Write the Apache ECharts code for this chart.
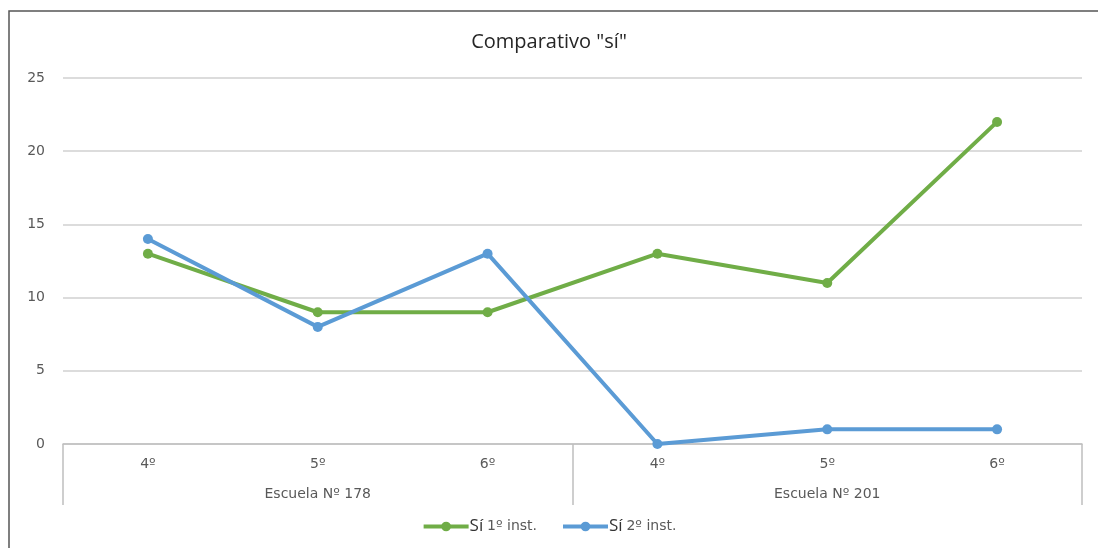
<!DOCTYPE html>
<html><head><meta charset="utf-8">
<script src="https://cdn.jsdelivr.net/npm/echarts@6/dist/echarts.min.js"></script>
<style>html,body{margin:0;padding:0;background:#fff}#c{width:1098px;height:548px}</style>
</head><body><div id="c"></div>
<script>
const categories = ['4º','5º','6º','4º','5º','6º'];
const groups = ['Escuela Nº 178','Escuela Nº 201'];
const serie1Name = 'Sí 1º inst.';
const serie2Name = 'Sí 2º inst.';
const serie1 = [13, 9, 9, 13, 11, 22];
const serie2 = [14, 8, 13, 0, 1, 1];
const yTicks = [0, 5, 10, 15, 20, 25];

const chart = echarts.init(document.getElementById('c'));
const font = 'DejaVu Sans';
chart.setOption({
  animation: false,
  textStyle: {fontFamily: font},
  title: {text: 'Comparativo "sí"', left: 'center', top: 27, textStyle: {fontFamily: 'Open Sans', fontSize: 20, fontWeight: 'normal', color: '#262626'}},
  graphic: [{type: 'rect', shape: {x: 9, y: 11, width: 1200, height: 700}, style: {fill: 'none', stroke: '#555', lineWidth: 1.5}, silent: true}],
  legend: {
    bottom: 8, left: 'center', itemWidth: 45, itemHeight: 12, itemGap: 24,
    data: [serie1Name, serie2Name],
    lineStyle: {width: 4},
    formatter: n => '{a|' + n.slice(0,2) + '} {b|' + n.slice(3) + '}',
    textStyle: {color: '#595959', padding: [0,0,0,-4], rich: {a: {fontSize: 17, color: '#333', fontFamily: 'Open Sans'}, b: {fontSize: 14, color: '#595959', fontFamily: font}}}
  },
  grid: {left: 63, right: 16, top: 78, bottom: 104},
  xAxis: [{
    type: 'category', data: categories, boundaryGap: true,
    axisLine: {lineStyle: {color: '#bfbfbf', width: 1.5}},
    axisTick: {show: false},
    axisLabel: {color: '#595959', fontSize: 14, margin: 13}
  }, {
    type: 'category', data: groups, position: 'bottom', boundaryGap: true,
    axisLine: {show: false},
    axisTick: {show: true, length: 61, alignWithLabel: false, lineStyle: {color: '#bfbfbf', width: 1.5}},
    axisLabel: {color: '#595959', fontSize: 14, margin: 43}
  }],
  yAxis: {
    type: 'value', min: yTicks[0], max: yTicks[yTicks.length-1], interval: 5,
    axisLine: {show: false}, axisTick: {show: false},
    axisLabel: {color: '#595959', fontSize: 14, margin: 18},
    splitLine: {lineStyle: {color: '#d0d0d0', width: 1.5}}
  },
  series: [{
    name: serie1Name, type: 'line', data: serie1, xAxisIndex: 0,
    symbol: 'circle', symbolSize: 10,
    lineStyle: {color: '#70AD47', width: 4}, itemStyle: {color: '#70AD47'}
  }, {
    name: serie2Name, type: 'line', data: serie2, xAxisIndex: 0,
    symbol: 'circle', symbolSize: 10,
    lineStyle: {color: '#5B9BD5', width: 4}, itemStyle: {color: '#5B9BD5'}
  }]
});
</script></body></html>
